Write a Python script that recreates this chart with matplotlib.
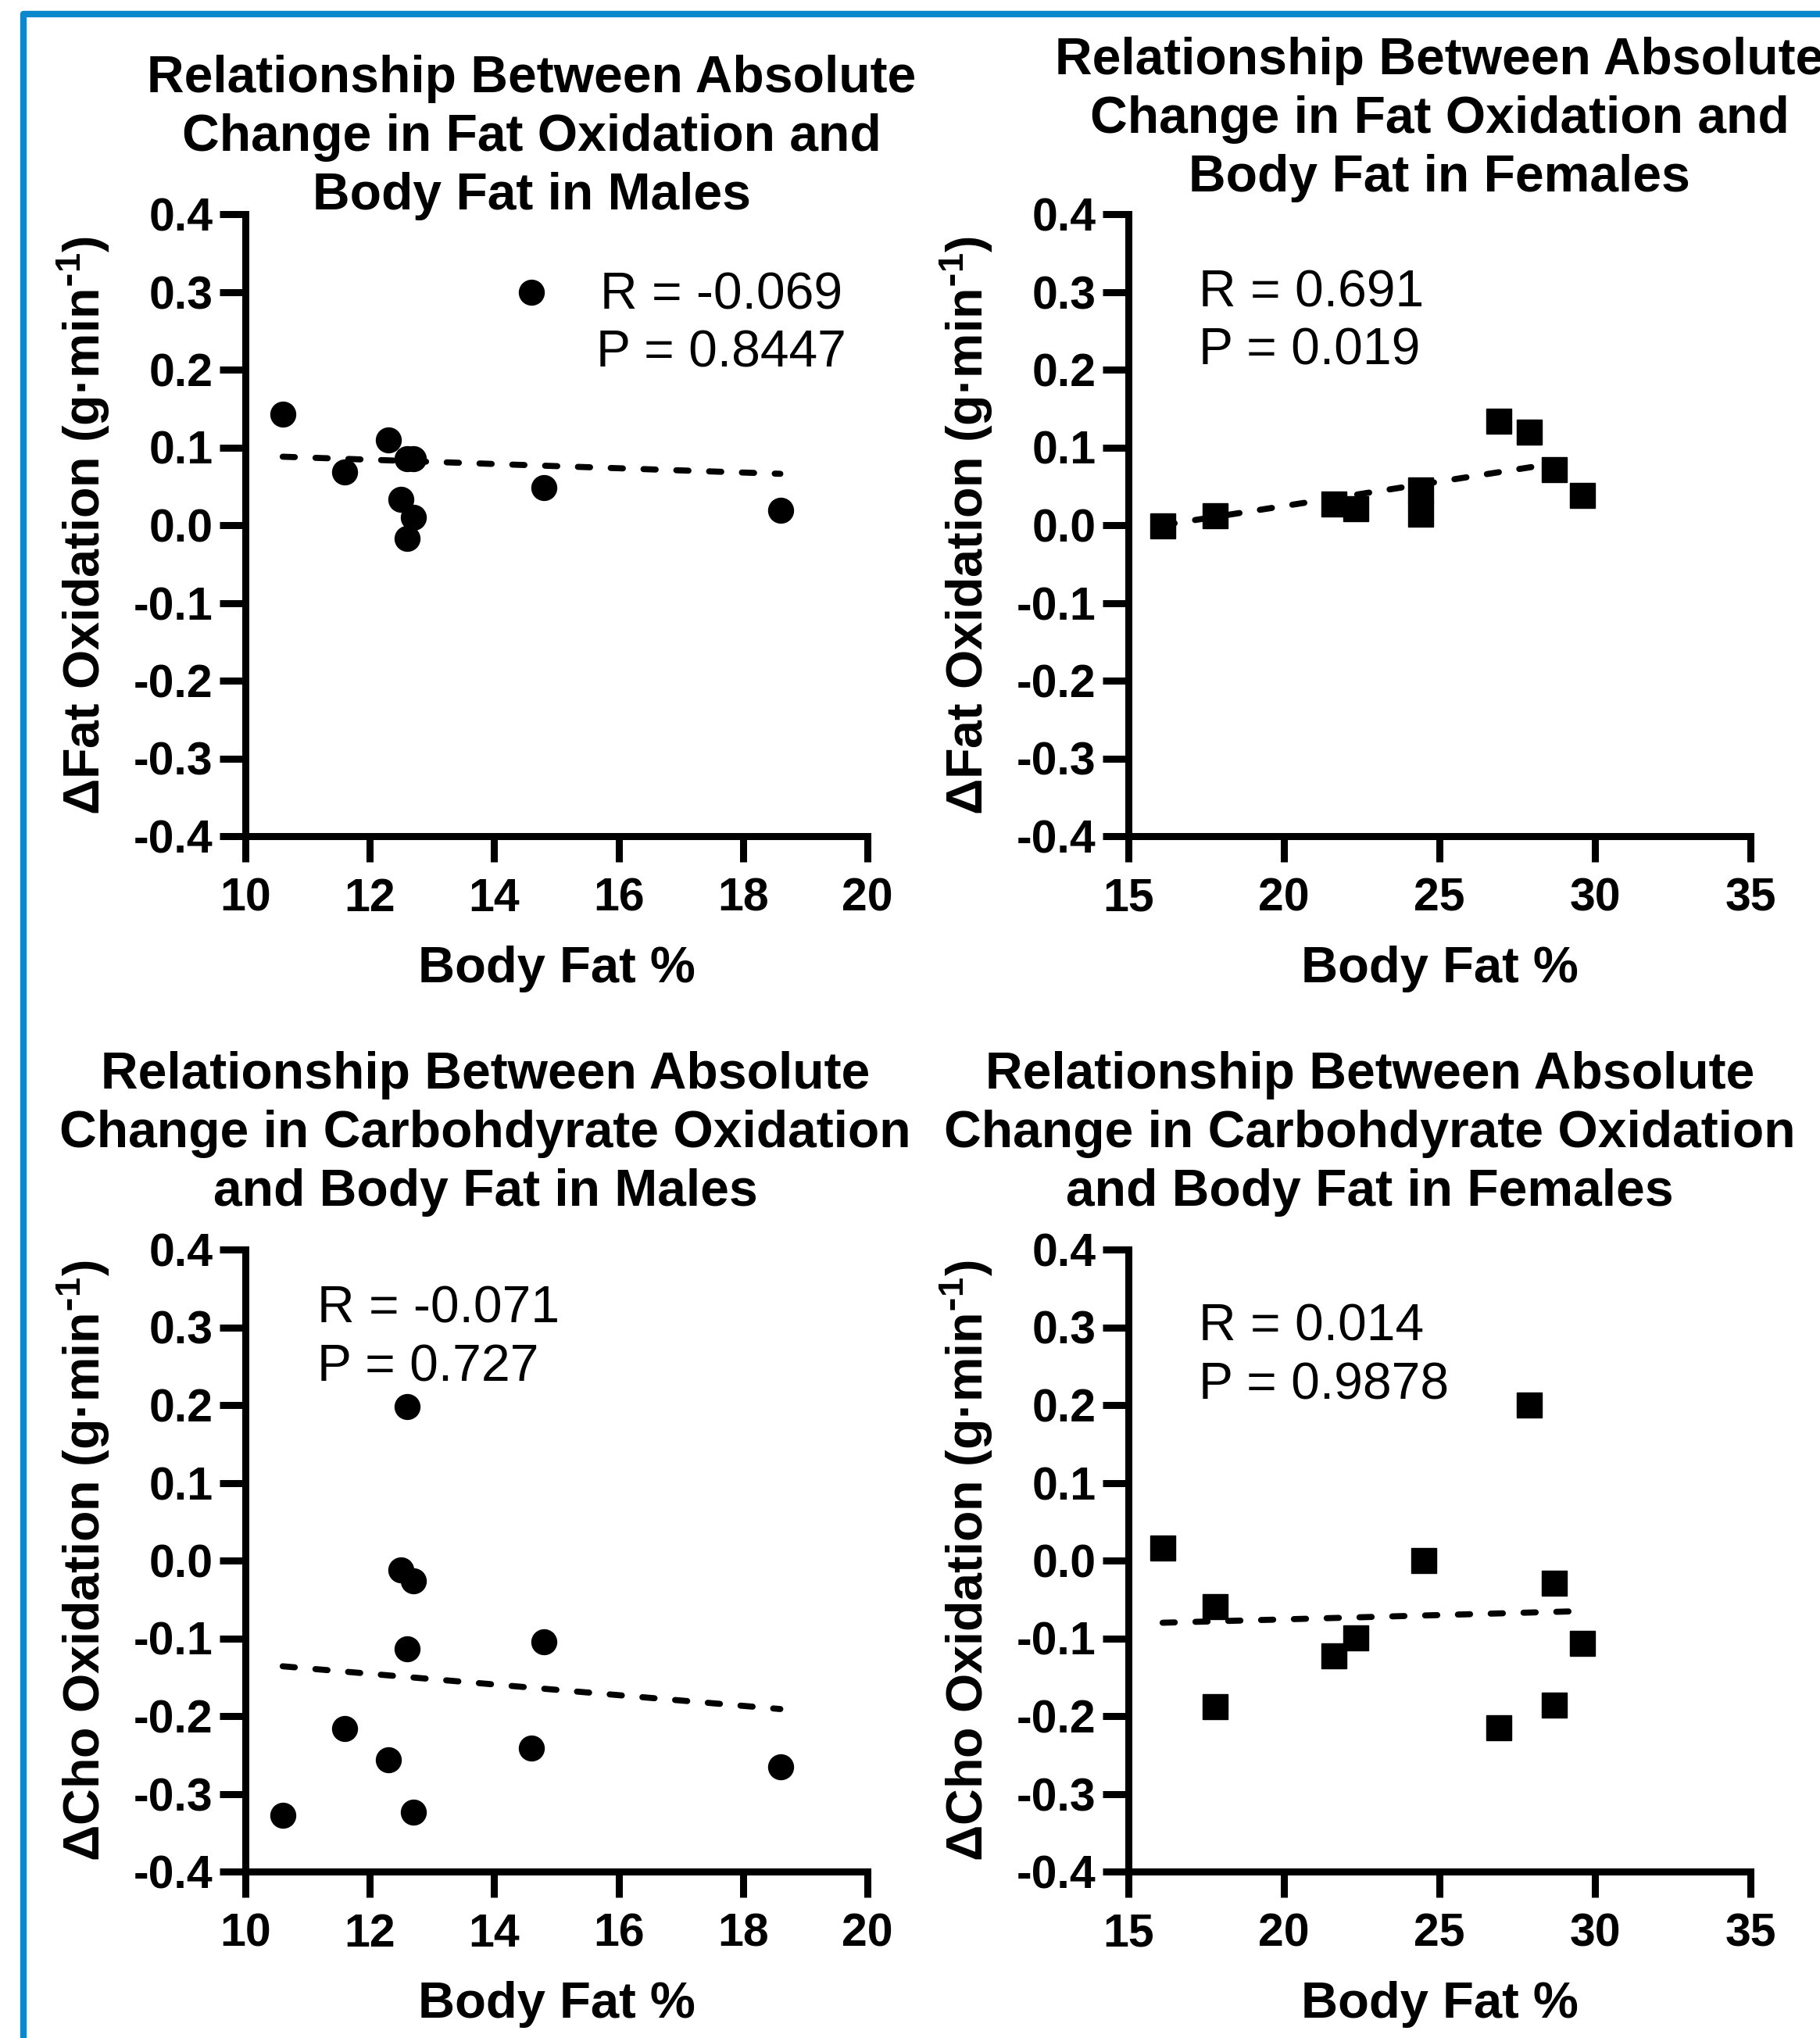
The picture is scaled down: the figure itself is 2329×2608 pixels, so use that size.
import matplotlib
matplotlib.use("Agg")
import matplotlib.pyplot as plt

plt.rcParams['font.family'] = ['Liberation Sans', 'DejaVu Sans']
plt.rcParams['font.weight'] = 'bold'
plt.rcParams['axes.labelweight'] = 'bold'
plt.rcParams['mathtext.default'] = 'regular'
plt.rcParams['axes.unicode_minus'] = False

# --- data ---
male_bf = [10.6, 11.6, 12.3, 12.5, 12.6, 12.6, 12.7, 12.7, 14.6, 14.8, 18.6]
male_fat = [0.143, 0.068, 0.110, 0.033, 0.085, -0.017, 0.085, 0.010, 0.299, 0.048, 0.019]
male_cho_bf = [10.6, 11.6, 12.3, 12.5, 12.6, 12.6, 12.7, 12.7, 14.6, 14.8, 18.6]
male_cho = [-0.328, -0.216, -0.256, -0.012, 0.198, -0.114, -0.026, -0.324, -0.241, -0.105, -0.265]

female_bf = [16.1, 17.8, 21.6, 22.3, 24.4, 24.4, 26.9, 27.9, 28.7, 29.6]
female_fat = [-0.001, 0.0125, 0.027, 0.021, 0.045, 0.014, 0.134, 0.120, 0.071, 0.038]
female_cho_bf = [16.1, 17.8, 17.8, 21.6, 22.3, 24.5, 26.9, 27.9, 28.7, 28.7, 29.6]
female_cho = [0.016, -0.059, -0.188, -0.123, -0.099, 0.0, -0.215, 0.200, -0.029, -0.186, -0.107]

# regression line ends (x range of data, fitted y)
fit_male_fat = ([10.6, 18.6], [0.088, 0.066])
fit_female_fat = ([16.1, 29.6], [0.000, 0.085])
fit_male_cho = ([10.6, 18.6], [-0.136, -0.191])
fit_female_cho = ([16.1, 29.6], [-0.080, -0.065])

stats = ["R = -0.069\nP = 0.8447", "R = 0.691\nP = 0.019",
         "R = -0.071\nP = 0.727", "R = 0.014\nP = 0.9878"]
titles = ["Relationship Between Absolute\nChange in Fat Oxidation and\nBody Fat in Males",
          "Relationship Between Absolute\nChange in Fat Oxidation and\nBody Fat in Females",
          "Relationship Between Absolute\nChange in Carbohdyrate Oxidation\nand Body Fat in Males",
          "Relationship Between Absolute\nChange in Carbohdyrate Oxidation\nand Body Fat in Females"]
ylabels = [r"ΔFat Oxidation (g·min$^{\text{-}1}$)", r"ΔFat Oxidation (g·min$^{\text{-}1}$)",
           r"ΔCho Oxidation (g·min$^{\text{-}1}$)", r"ΔCho Oxidation (g·min$^{\text{-}1}$)"]
y_ticks = [-0.4, -0.3, -0.2, -0.1, 0.0, 0.1, 0.2, 0.3, 0.4]
male_xticks = [10, 12, 14, 16, 18, 20]
female_xticks = [15, 20, 25, 30, 35]

W, H = 2329, 2608
fig = plt.figure(figsize=(W / 100, H / 100), dpi=100)

# blue frame (top and left edges visible only)
fig.add_artist(plt.Line2D([30 / W, 30 / W, 1.05], [-0.05, 1 - 18 / H, 1 - 18 / H],
                          transform=fig.transFigure, color='#0A88CE', lw=6))

lefts = [314, 1444, 314, 1444]
bottoms = [1070, 1070, 2395, 2395]
panels = [
    (male_bf, male_fat, fit_male_fat, 'o', male_xticks, 0.46, 1.123, (0.765, 0.822, 'center')),
    (female_bf, female_fat, fit_female_fat, 's', female_xticks, 0.5, 1.152, (0.113, 0.826, 'left')),
    (male_cho_bf, male_cho, fit_male_cho, 'o', male_xticks, 0.386, 1.186, (0.116, 0.857, 'left')),
    (female_cho_bf, female_cho, fit_female_cho, 's', female_xticks, 0.388, 1.186, (0.113, 0.828, 'left')),
]

for i, (xs, ys, fit, mk, xt, tx, ty, (sx, sy, sha)) in enumerate(panels):
    ax = fig.add_axes([lefts[i] / W, 1 - bottoms[i] / H, 796 / W, 796 / H])
    ax.plot(fit[0], fit[1], color='black', lw=5.6, linestyle=(0, (2.0, 3.4)),
            dash_capstyle='round', zorder=2)
    ax.plot(xs, ys, linestyle='none', marker=mk, color='black', markersize=23, zorder=3)

    ax.set_xlim(xt[0], xt[-1])
    ax.set_ylim(-0.4, 0.4)
    ax.set_xticks(xt)
    ax.set_yticks(y_ticks)
    ax.set_yticklabels([f"{v:.1f}" for v in y_ticks])
    for s in ['top', 'right']:
        ax.spines[s].set_visible(False)
    for s in ['left', 'bottom']:
        ax.spines[s].set_linewidth(6.5)
    ax.tick_params(direction='out', length=24, width=6.5, labelsize=42.5)
    ax.tick_params(axis='x', pad=14)
    ax.tick_params(axis='y', pad=6)

    ax.set_xlabel("Body Fat %", fontsize=47, fontweight='bold', labelpad=23)
    ax.set_ylabel(ylabels[i], fontsize=46.5, fontweight='bold')
    ax.yaxis.set_label_coords(-0.215, 0.5)

    ax.text(tx, ty, titles[i], transform=ax.transAxes, ha='center', va='center',
            fontsize=47.5, fontweight='bold', linespacing=1.27)
    ax.text(sx, sy, stats[i], transform=ax.transAxes, ha=sha, va='center',
            multialignment=sha, fontsize=47.5, fontweight='normal', linespacing=1.26)

fig.savefig("out.png", dpi=100)
